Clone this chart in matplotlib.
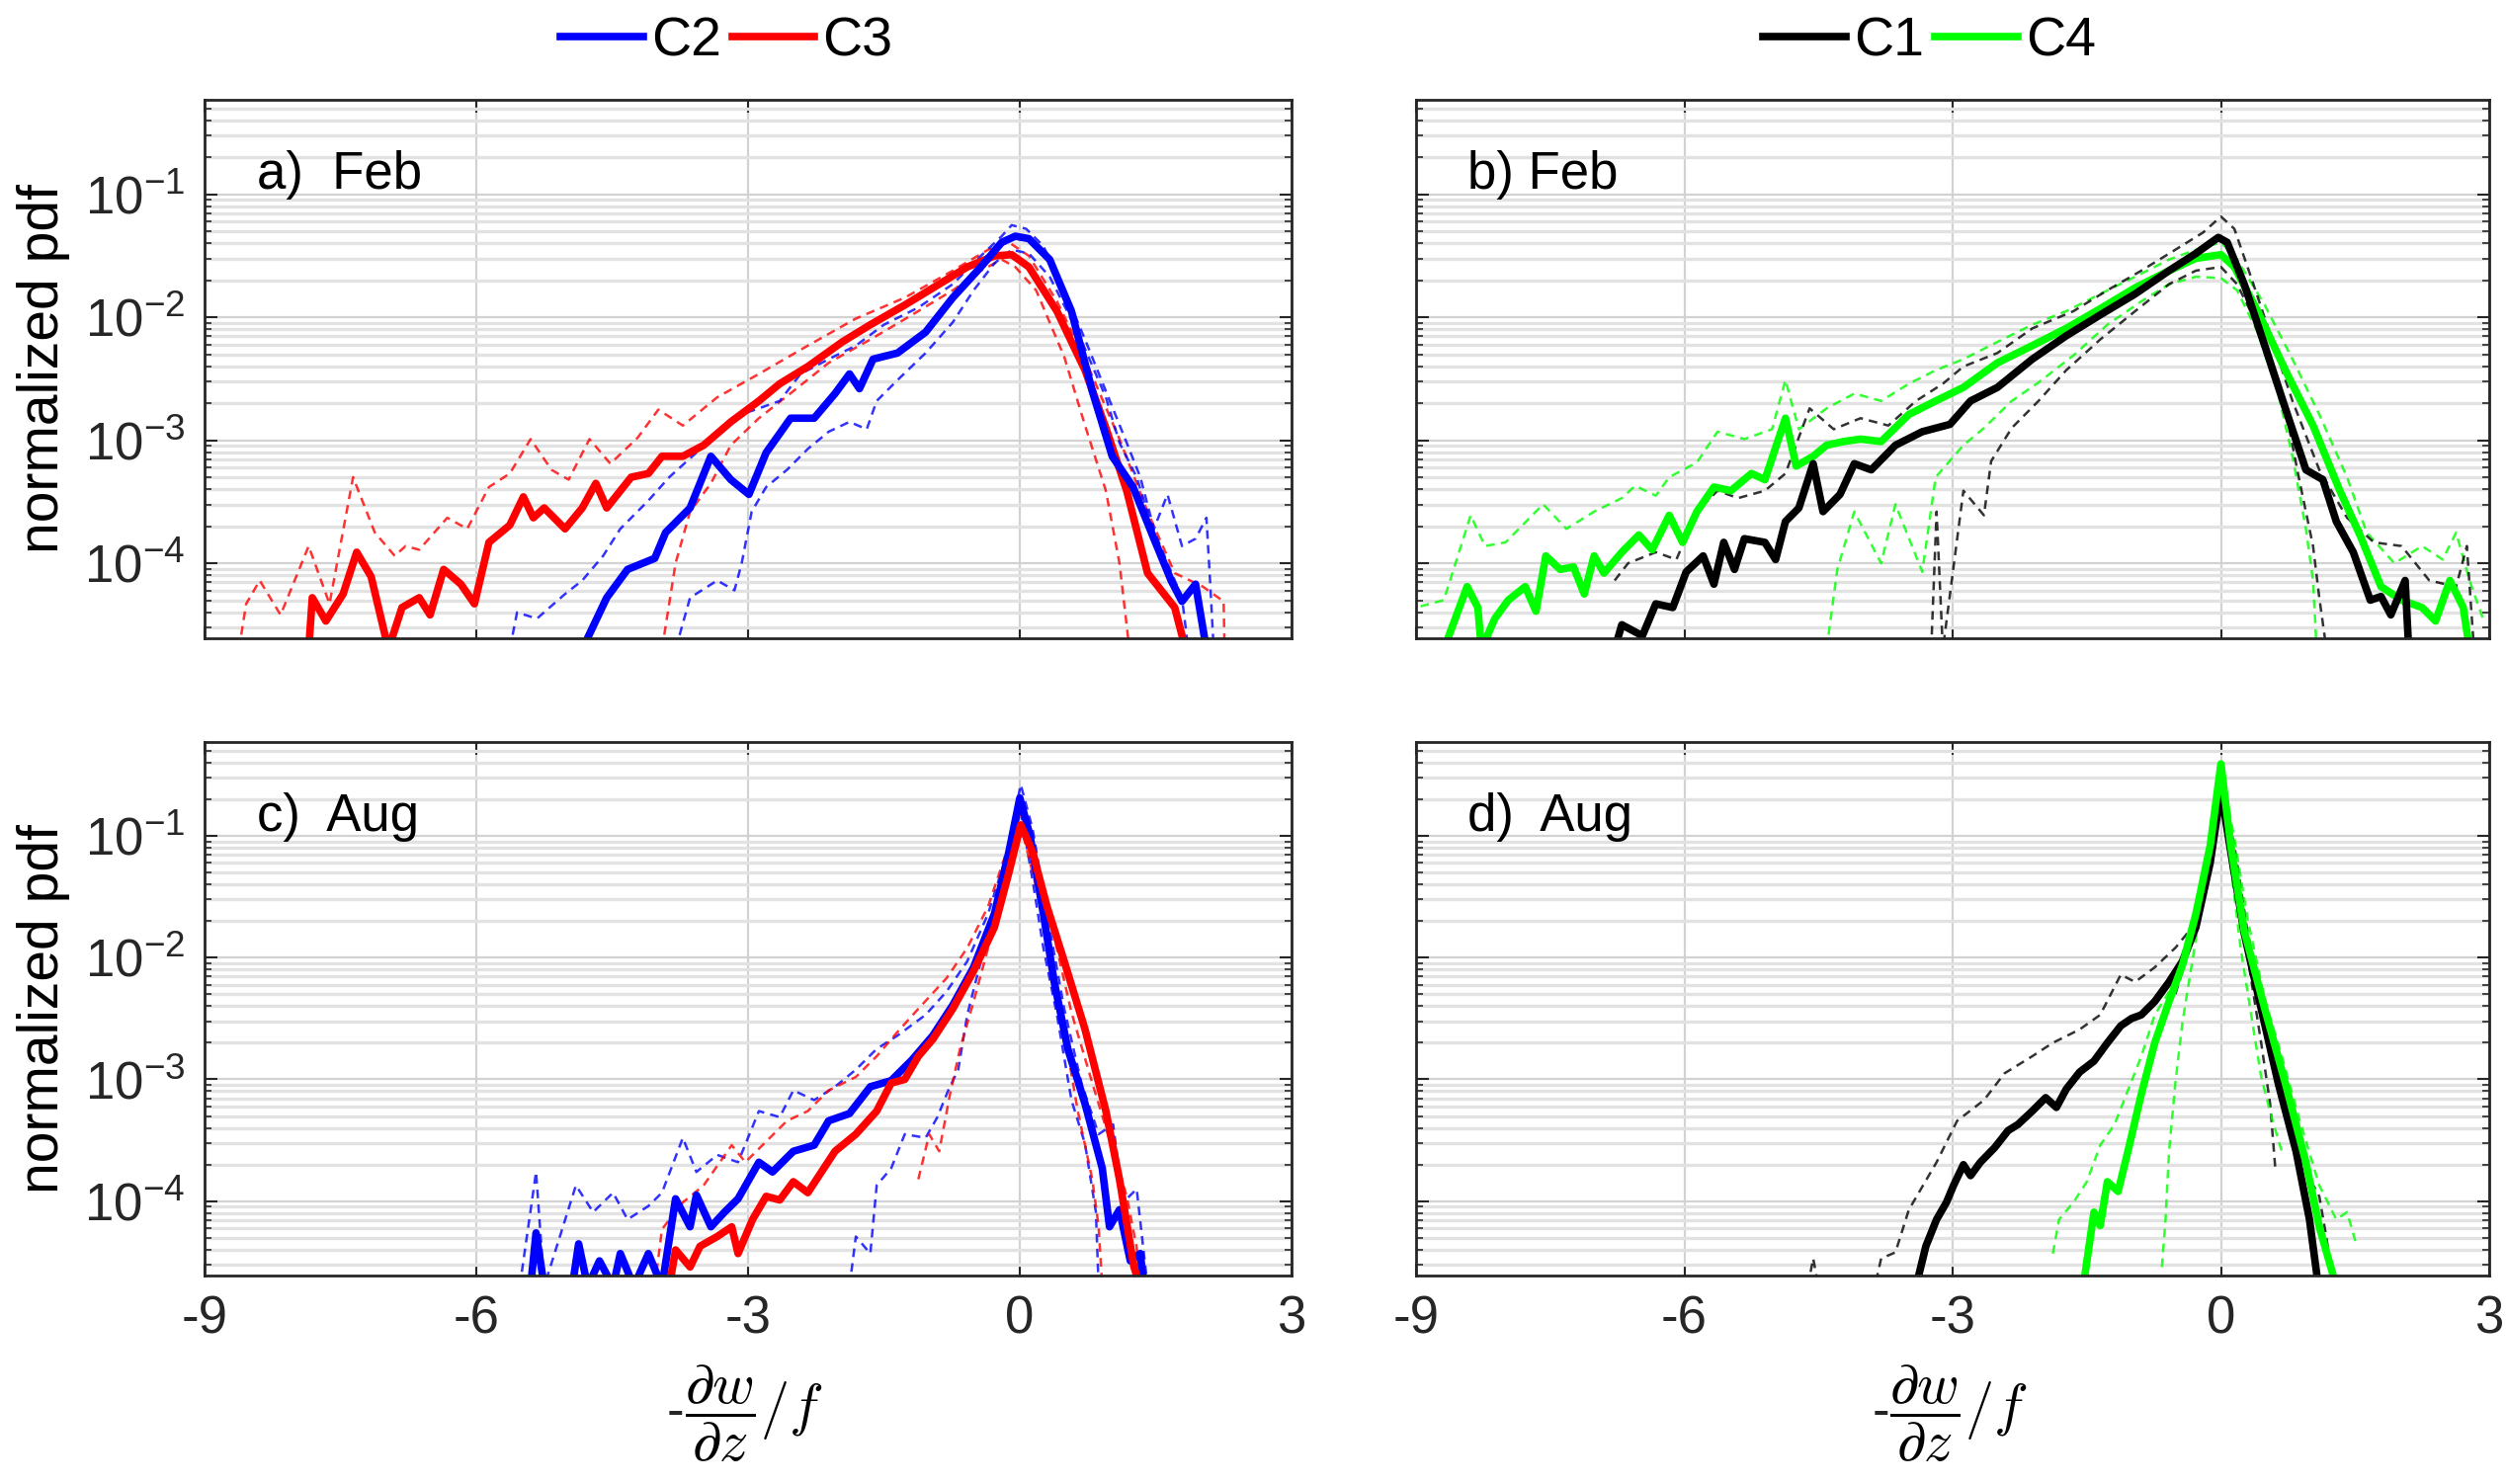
import numpy as np
import matplotlib
matplotlib.use("Agg")
import matplotlib.pyplot as plt
from matplotlib.lines import Line2D
from matplotlib.ticker import LogLocator, NullFormatter, FixedLocator

plt.rcParams['font.family'] = ['Liberation Sans', 'DejaVu Sans']
plt.rcParams['mathtext.fontset'] = 'cm'
plt.rcParams['axes.unicode_minus'] = False

# curves as (x, log10 pdf) pairs
# ---- a) Feb : C2 (blue), C3 (red)
A_C2 = [(-4.83, -4.7), (-4.56, -4.28), (-4.33, -4.05), (-4.03, -3.96), (-3.91, -3.75),
        (-3.64, -3.55), (-3.41, -3.13), (-3.19, -3.32), (-2.99, -3.44), (-2.80, -3.10),
        (-2.53, -2.82), (-2.27, -2.82), (-2.04, -2.62), (-1.88, -2.46), (-1.77, -2.58),
        (-1.62, -2.34), (-1.35, -2.29), (-1.04, -2.12), (-0.74, -1.84), (-0.43, -1.59),
        (-0.20, -1.39), (-0.05, -1.34), (0.10, -1.36), (0.33, -1.53), (0.57, -1.95),
        (0.80, -2.60), (1.02, -3.13), (1.25, -3.38), (1.48, -3.80), (1.67, -4.14),
        (1.79, -4.31), (1.94, -4.17), (2.06, -4.7)]
A_C2_HI = [(-5.63, -4.7), (-5.55, -4.40), (-5.33, -4.45), (-5.02, -4.25), (-4.83, -4.14),
           (-4.60, -3.94), (-4.41, -3.72), (-4.10, -3.49), (-3.87, -3.30), (-3.57, -3.10),
           (-3.34, -2.96), (-3.19, -2.82), (-2.88, -2.74), (-2.65, -2.68), (-2.42, -2.46),
           (-2.11, -2.34), (-1.81, -2.23), (-1.50, -2.06), (-1.12, -1.92), (-0.74, -1.73),
           (-0.43, -1.50), (-0.20, -1.34), (-0.09, -1.25), (0.07, -1.28), (0.26, -1.42),
           (0.49, -1.78), (0.72, -2.18), (0.95, -2.60), (1.18, -3.02), (1.33, -3.30),
           (1.48, -3.72), (1.63, -3.44), (1.79, -3.86), (1.94, -3.80), (2.06, -3.63),
           (2.10, -4.14), (2.14, -4.7)]
A_C2_LO = [(-3.80, -4.7), (-3.64, -4.28), (-3.34, -4.14), (-3.15, -4.22), (-3.07, -4.00),
           (-2.96, -3.58), (-2.80, -3.38), (-2.57, -3.24), (-2.34, -3.07), (-2.11, -2.93),
           (-1.88, -2.85), (-1.69, -2.91), (-1.58, -2.68), (-1.35, -2.51), (-1.04, -2.29),
           (-0.74, -2.04), (-0.51, -1.78), (-0.28, -1.56), (-0.09, -1.45), (0.10, -1.48),
           (0.33, -1.67), (0.64, -2.12), (0.95, -2.65), (1.10, -3.02), (1.29, -3.30),
           (1.44, -3.66), (1.63, -4.00), (1.79, -4.28), (1.86, -4.7)]
A_C3 = [(-7.85, -4.7), (-7.81, -4.28), (-7.66, -4.47), (-7.47, -4.25), (-7.32, -3.91),
        (-7.16, -4.11), (-6.97, -4.7), (-6.82, -4.36), (-6.63, -4.28), (-6.51, -4.42),
        (-6.36, -4.05), (-6.17, -4.17), (-6.02, -4.33), (-5.86, -3.83), (-5.63, -3.69),
        (-5.48, -3.46), (-5.37, -3.63), (-5.25, -3.55), (-5.02, -3.72), (-4.83, -3.55),
        (-4.68, -3.35), (-4.56, -3.55), (-4.29, -3.30), (-4.10, -3.27), (-3.95, -3.13),
        (-3.72, -3.13), (-3.49, -3.04), (-3.19, -2.85), (-2.88, -2.68), (-2.65, -2.54),
        (-2.34, -2.40), (-1.96, -2.20), (-1.65, -2.06), (-1.27, -1.90), (-0.89, -1.73),
        (-0.58, -1.59), (-0.28, -1.50), (-0.09, -1.49), (0.10, -1.59), (0.41, -1.95),
        (0.72, -2.43), (0.95, -2.90), (1.18, -3.41), (1.41, -4.08), (1.56, -4.22),
        (1.71, -4.36), (1.83, -4.7)]
A_C3_HI = [(-8.62, -4.7), (-8.54, -4.33), (-8.39, -4.14), (-8.16, -4.42), (-7.85, -3.86),
           (-7.62, -4.33), (-7.36, -3.30), (-7.12, -3.75), (-6.90, -3.94), (-6.78, -3.86),
           (-6.63, -3.89), (-6.32, -3.63), (-6.10, -3.72), (-5.86, -3.38), (-5.63, -3.27),
           (-5.40, -2.99), (-5.17, -3.24), (-4.98, -3.32), (-4.75, -2.99), (-4.52, -3.19),
           (-4.22, -2.98), (-3.99, -2.75), (-3.72, -2.88), (-3.34, -2.65), (-2.88, -2.46),
           (-2.34, -2.23), (-1.81, -2.01), (-1.27, -1.84), (-0.74, -1.62), (-0.35, -1.45),
           (-0.12, -1.39), (0.10, -1.50), (0.41, -1.87), (0.72, -2.34), (1.10, -2.99),
           (1.41, -3.58), (1.71, -4.08), (2.02, -4.19), (2.25, -4.31), (2.26, -4.7)]
A_C3_LO = [(-3.95, -4.7), (-3.80, -4.00), (-3.64, -3.58), (-3.41, -3.35), (-3.19, -3.04),
           (-2.88, -2.82), (-2.50, -2.60), (-2.11, -2.37), (-1.65, -2.18), (-1.19, -1.98),
           (-0.74, -1.78), (-0.43, -1.62), (-0.20, -1.53), (-0.05, -1.59), (0.18, -1.78),
           (0.49, -2.32), (0.72, -2.88), (0.95, -3.41), (1.10, -4.00), (1.21, -4.7)]

# ---- b) Feb : C1 (black), C4 (green)
B_C1 = [(-6.78, -4.7), (-6.70, -4.50), (-6.47, -4.59), (-6.32, -4.33), (-6.13, -4.36),
        (-5.98, -4.07), (-5.79, -3.94), (-5.67, -4.17), (-5.56, -3.83), (-5.44, -4.05),
        (-5.33, -3.80), (-5.10, -3.83), (-4.98, -3.97), (-4.87, -3.66), (-4.72, -3.55),
        (-4.56, -3.19), (-4.45, -3.58), (-4.26, -3.44), (-4.10, -3.19), (-3.91, -3.24),
        (-3.64, -3.04), (-3.34, -2.93), (-3.03, -2.87), (-2.80, -2.68), (-2.50, -2.57),
        (-2.11, -2.34), (-1.73, -2.15), (-1.35, -1.98), (-0.96, -1.81), (-0.58, -1.62),
        (-0.28, -1.48), (-0.03, -1.35), (0.07, -1.39), (0.26, -1.73), (0.49, -2.23),
        (0.72, -2.74), (0.95, -3.24), (1.14, -3.32), (1.29, -3.66), (1.48, -3.91),
        (1.67, -4.30), (1.79, -4.27), (1.90, -4.42), (2.06, -4.14), (2.10, -4.7)]
B_C1_HI = [(-6.78, -4.14), (-6.63, -4.00), (-6.32, -3.91), (-6.09, -3.97), (-5.86, -3.58),
           (-5.63, -3.41), (-5.40, -3.47), (-5.10, -3.41), (-4.87, -3.27), (-4.60, -2.74),
           (-4.33, -2.91), (-4.03, -2.82), (-3.72, -2.88), (-3.41, -2.68), (-3.11, -2.54),
           (-2.88, -2.40), (-2.50, -2.29), (-2.11, -2.09), (-1.65, -1.95), (-1.27, -1.78),
           (-0.89, -1.62), (-0.51, -1.45), (-0.20, -1.31), (0.00, -1.18), (0.15, -1.28),
           (0.34, -1.68), (0.57, -2.18), (0.80, -2.68), (1.10, -3.24), (1.41, -3.63),
           (1.71, -3.83), (2.02, -3.86), (2.33, -4.14), (2.63, -4.19), (2.75, -3.86),
           (2.83, -4.7)]
B_C1_LO = [(-3.24, -4.7), (-3.18, -3.58), (-3.11, -4.7), (-2.88, -3.41), (-2.65, -3.61),
           (-2.57, -3.17), (-2.34, -2.90), (-2.04, -2.68), (-1.73, -2.43), (-1.35, -2.18),
           (-0.96, -1.95), (-0.58, -1.73), (-0.28, -1.62), (0.00, -1.59), (0.18, -1.73),
           (0.49, -2.18), (0.72, -2.74), (0.87, -3.30), (1.03, -3.86), (1.10, -4.28),
           (1.18, -4.7)]
B_C4 = [(-8.69, -4.7), (-8.43, -4.19), (-8.31, -4.36), (-8.27, -4.7), (-8.12, -4.45),
        (-7.97, -4.30), (-7.78, -4.19), (-7.66, -4.39), (-7.55, -3.94), (-7.39, -4.05),
        (-7.24, -4.03), (-7.12, -4.25), (-7.01, -3.94), (-6.90, -4.08), (-6.70, -3.91),
        (-6.51, -3.77), (-6.36, -3.89), (-6.17, -3.61), (-6.02, -3.83), (-5.86, -3.58),
        (-5.67, -3.38), (-5.48, -3.41), (-5.25, -3.27), (-5.10, -3.32), (-4.87, -2.82),
        (-4.75, -3.21), (-4.56, -3.13), (-4.41, -3.04), (-4.22, -3.01), (-4.03, -2.99),
        (-3.80, -3.01), (-3.49, -2.79), (-3.19, -2.68), (-2.88, -2.57), (-2.50, -2.37),
        (-2.11, -2.23), (-1.73, -2.09), (-1.35, -1.93), (-0.96, -1.76), (-0.58, -1.62),
        (-0.28, -1.52), (0.00, -1.49), (0.15, -1.59), (0.41, -1.95), (0.72, -2.43),
        (1.03, -2.88), (1.33, -3.41), (1.56, -3.78), (1.79, -4.19), (2.02, -4.30),
        (2.25, -4.36), (2.40, -4.47), (2.56, -4.14), (2.71, -4.36), (2.78, -4.7)]
B_C4_HI = [(-8.95, -4.35), (-8.69, -4.30), (-8.39, -3.61), (-8.23, -3.86), (-8.00, -3.83),
           (-7.58, -3.52), (-7.32, -3.72), (-7.01, -3.58), (-6.70, -3.47), (-6.55, -3.37),
           (-6.32, -3.45), (-6.17, -3.30), (-5.86, -3.18), (-5.63, -2.93), (-5.33, -2.99),
           (-5.02, -2.91), (-4.87, -2.51), (-4.72, -2.91), (-4.41, -2.74), (-4.10, -2.62),
           (-3.80, -2.68), (-3.49, -2.54), (-3.19, -2.43), (-2.88, -2.34), (-2.50, -2.20),
           (-2.11, -2.06), (-1.73, -1.95), (-1.35, -1.81), (-0.96, -1.67), (-0.58, -1.53),
           (-0.28, -1.45), (0.00, -1.39), (0.18, -1.53), (0.49, -1.90), (0.80, -2.34),
           (1.10, -2.79), (1.41, -3.30), (1.63, -3.75), (1.94, -4.00), (2.25, -3.86),
           (2.48, -3.97), (2.63, -3.75), (2.78, -4.14), (2.93, -4.45)]
B_C4_LO = [(-4.41, -4.7), (-4.29, -4.05), (-4.10, -3.58), (-3.80, -4.00), (-3.64, -3.52),
           (-3.34, -4.07), (-3.19, -3.30), (-2.88, -3.04), (-2.65, -2.90), (-2.34, -2.68),
           (-2.04, -2.53), (-1.65, -2.31), (-1.27, -2.06), (-0.89, -1.87), (-0.58, -1.73),
           (-0.28, -1.67), (0.00, -1.68), (0.18, -1.78), (0.41, -2.12), (0.64, -2.62),
           (0.80, -3.13), (0.95, -3.72), (1.03, -4.14), (1.07, -4.7)]

# ---- c) Aug : C2 (blue), C3 (red)
C_C2 = [(-5.40, -4.7), (-5.34, -4.26), (-5.25, -4.7), (-4.94, -4.7), (-4.87, -4.35),
        (-4.77, -4.7), (-4.64, -4.49), (-4.49, -4.7), (-4.41, -4.43), (-4.26, -4.7),
        (-4.10, -4.43), (-3.95, -4.7), (-3.80, -3.98), (-3.64, -4.21), (-3.57, -3.95),
        (-3.41, -4.21), (-3.26, -4.09), (-3.11, -3.98), (-2.88, -3.68), (-2.73, -3.76),
        (-2.50, -3.59), (-2.27, -3.54), (-2.11, -3.34), (-1.88, -3.28), (-1.65, -3.06),
        (-1.42, -3.01), (-1.19, -2.84), (-0.96, -2.64), (-0.74, -2.39), (-0.51, -2.08),
        (-0.28, -1.64), (-0.12, -1.13), (0.00, -0.69), (0.11, -0.99), (0.26, -1.64),
        (0.38, -2.20), (0.53, -2.75), (0.72, -3.20), (0.91, -3.73), (0.99, -4.21),
        (1.10, -4.07), (1.22, -4.49), (1.33, -4.43), (1.37, -4.7)]
C_C2_HI = [(-5.52, -4.7), (-5.34, -3.76), (-5.25, -4.7), (-4.90, -3.87), (-4.71, -4.09),
           (-4.49, -3.93), (-4.33, -4.15), (-4.10, -4.04), (-3.95, -3.93), (-3.72, -3.48),
           (-3.57, -3.76), (-3.34, -3.62), (-3.11, -3.68), (-2.88, -3.26), (-2.65, -3.31),
           (-2.50, -3.09), (-2.27, -3.17), (-2.04, -3.06), (-1.81, -2.92), (-1.58, -2.75),
           (-1.35, -2.64), (-1.04, -2.47), (-0.81, -2.28), (-0.58, -2.03), (-0.35, -1.64),
           (-0.16, -1.19), (0.01, -0.58), (0.14, -0.94), (0.30, -1.64), (0.49, -2.42),
           (0.68, -3.03), (0.87, -3.45), (1.03, -3.37), (1.14, -4.01), (1.29, -3.90),
           (1.41, -4.7)]
C_C2_LO = [(-1.88, -4.7), (-1.81, -4.29), (-1.65, -4.43), (-1.58, -3.87), (-1.42, -3.73),
           (-1.27, -3.45), (-1.04, -3.48), (-0.91, -3.31), (-0.79, -3.09), (-0.68, -2.92),
           (-0.58, -2.47), (-0.43, -2.03), (-0.24, -1.53), (-0.09, -1.05), (0.01, -0.80),
           (0.14, -1.36), (0.26, -1.92), (0.41, -2.47), (0.57, -3.17), (0.72, -3.53),
           (0.84, -4.09), (0.87, -4.7)]
C_C3 = [(-3.87, -4.7), (-3.80, -4.40), (-3.64, -4.54), (-3.53, -4.37), (-3.34, -4.29),
        (-3.18, -4.21), (-3.11, -4.43), (-2.95, -4.15), (-2.80, -3.96), (-2.65, -3.99),
        (-2.50, -3.84), (-2.34, -3.93), (-2.19, -3.76), (-2.04, -3.59), (-1.81, -3.45),
        (-1.58, -3.26), (-1.42, -3.03), (-1.27, -3.00), (-1.12, -2.81), (-0.96, -2.67),
        (-0.74, -2.42), (-0.51, -2.11), (-0.28, -1.75), (-0.12, -1.30), (0.01, -0.91),
        (0.14, -1.13), (0.30, -1.58), (0.49, -2.03), (0.72, -2.59), (0.95, -3.26),
        (1.10, -3.82), (1.26, -4.54), (1.33, -4.7)]
C_C3_HI = [(-4.03, -4.7), (-3.95, -4.23), (-3.72, -4.01), (-3.49, -3.87), (-3.18, -3.54),
           (-3.03, -3.68), (-2.80, -3.51), (-2.57, -3.34), (-2.34, -3.26), (-2.11, -3.09),
           (-1.81, -2.98), (-1.58, -2.81), (-1.35, -2.61), (-1.12, -2.42), (-0.81, -2.17),
           (-0.58, -1.92), (-0.35, -1.58), (-0.16, -1.16), (0.01, -0.80), (0.18, -1.16),
           (0.38, -1.83), (0.57, -2.45), (0.80, -3.03), (1.03, -3.59), (1.18, -3.96),
           (1.29, -4.38), (1.33, -4.7)]
C_C3_LO = [(-1.12, -3.82), (-1.00, -3.45), (-0.89, -3.59), (-0.77, -3.12), (-0.66, -2.75),
           (-0.51, -2.36), (-0.35, -1.92), (-0.20, -1.47), (-0.05, -1.08), (0.03, -0.97),
           (0.18, -1.42), (0.34, -1.97), (0.49, -2.61), (0.64, -3.26), (0.80, -3.82),
           (0.87, -4.21), (0.91, -4.7)]

# ---- d) Aug : C1 (black), C4 (green)
D_C1 = [(-3.41, -4.7), (-3.30, -4.37), (-3.18, -4.15), (-3.07, -4.01), (-2.99, -3.87),
        (-2.88, -3.70), (-2.80, -3.79), (-2.69, -3.68), (-2.53, -3.56), (-2.38, -3.42),
        (-2.27, -3.37), (-2.11, -3.26), (-1.96, -3.15), (-1.84, -3.23), (-1.73, -3.08),
        (-1.58, -2.94), (-1.42, -2.85), (-1.27, -2.70), (-1.12, -2.56), (-1.00, -2.50),
        (-0.89, -2.47), (-0.74, -2.36), (-0.58, -2.20), (-0.43, -2.03), (-0.28, -1.75),
        (-0.12, -1.22), (0.00, -0.63), (0.11, -1.13), (0.26, -1.80), (0.45, -2.42),
        (0.64, -3.03), (0.84, -3.59), (0.99, -4.15), (1.09, -4.7)]
D_C1_HI = [(-4.62, -4.7), (-4.56, -4.47), (-4.50, -4.7), (-3.87, -4.7), (-3.80, -4.47),
           (-3.64, -4.42), (-3.49, -4.07), (-3.18, -3.68), (-2.95, -3.34), (-2.65, -3.17),
           (-2.42, -2.95), (-2.11, -2.81), (-1.88, -2.70), (-1.58, -2.59), (-1.35, -2.47),
           (-1.12, -2.14), (-0.96, -2.20), (-0.74, -2.08), (-0.51, -1.92), (-0.32, -1.75),
           (-0.16, -1.36), (0.00, -0.61), (0.15, -1.08), (0.30, -1.80), (0.49, -2.45),
           (0.64, -2.95), (0.80, -3.37), (0.95, -3.76), (1.10, -3.96), (1.18, -4.30),
           (1.26, -4.7)]
D_C1_LO = [(-0.51, -2.30), (-0.30, -1.80), (-0.15, -1.30), (0.00, -0.70), (0.15, -1.30),
           (0.30, -2.00), (0.45, -2.70), (0.55, -3.20), (0.61, -3.75)]
D_C4 = [(-1.54, -4.7), (-1.42, -4.09), (-1.35, -4.20), (-1.27, -3.84), (-1.15, -3.92),
        (-1.04, -3.59), (-0.89, -3.12), (-0.74, -2.70), (-0.58, -2.36), (-0.43, -2.06),
        (-0.28, -1.64), (-0.12, -1.08), (0.00, -0.41), (0.11, -1.08), (0.26, -1.78),
        (0.49, -2.42), (0.72, -3.03), (0.95, -3.68), (1.10, -4.21), (1.29, -4.7)]
D_C4_HI = [(-1.88, -4.43), (-1.81, -4.15), (-1.65, -4.01), (-1.50, -3.84), (-1.35, -3.54),
           (-1.19, -3.37), (-1.04, -3.09), (-0.89, -2.81), (-0.74, -2.47), (-0.58, -2.28),
           (-0.43, -1.97), (-0.28, -1.58), (-0.12, -1.02), (0.00, -0.44), (0.15, -1.02),
           (0.30, -1.69), (0.49, -2.34), (0.68, -2.81), (0.87, -3.31), (1.10, -3.87),
           (1.29, -4.15), (1.41, -4.09), (1.52, -4.37)]
D_C4_LO = [(-0.66, -4.54), (-0.62, -4.15), (-0.58, -3.59), (-0.51, -3.03), (-0.43, -2.53),
           (-0.32, -2.03), (-0.20, -1.47), (-0.08, -0.97), (0.00, -0.66), (0.11, -1.25),
           (0.22, -1.92), (0.34, -2.48), (0.45, -2.98), (0.57, -3.32), (0.68, -3.59)]

BLUE, RED, BLACK, GREEN = '#0000ff', '#ff0000', '#000000', '#00ff00'

PANELS = [
    ("a)  Feb", [(A_C3, A_C3_HI, A_C3_LO, RED), (A_C2, A_C2_HI, A_C2_LO, BLUE)]),
    ("b) Feb", [(B_C4, B_C4_HI, B_C4_LO, GREEN), (B_C1, B_C1_HI, B_C1_LO, BLACK)]),
    ("c)  Aug", [(C_C2, C_C2_HI, C_C2_LO, BLUE), (C_C3, C_C3_HI, C_C3_LO, RED)]),
    ("d)  Aug", [(D_C1, D_C1_HI, D_C1_LO, BLACK), (D_C4, D_C4_HI, D_C4_LO, GREEN)]),
]

XTICKS = [-9, -6, -3, 0, 3]
YLIM = (10 ** -4.61, 10 ** -0.23)
FS = 38

AX_POS = [
    [0.0816, 0.5699, 0.4338, 0.3629],
    [0.5651, 0.5699, 0.4282, 0.3629],
    [0.0816, 0.1405, 0.4338, 0.3595],
    [0.5651, 0.1405, 0.4282, 0.3595],
]


def xy(pts):
    arr = np.array(pts)
    return arr[:, 0], 10 ** arr[:, 1]


fig = plt.figure(figsize=(25.36, 15.02), dpi=100)

for i, (label, groups) in enumerate(PANELS):
    ax = fig.add_axes(AX_POS[i])
    ax.set_yscale('log')
    ax.set_xlim(-9, 3)
    ax.set_ylim(*YLIM)

    # grid like matlab: x major, y major + minor
    ax.xaxis.set_major_locator(FixedLocator(XTICKS))
    ax.yaxis.set_major_locator(LogLocator(base=10, numticks=10))
    ax.yaxis.set_minor_locator(LogLocator(base=10, subs=np.arange(2, 10), numticks=20))
    ax.yaxis.set_minor_formatter(NullFormatter())
    ax.grid(True, which='major', axis='both', color='#d2d2d2', lw=1.6)
    ax.grid(True, which='minor', axis='y', color='#e2e2e2', lw=2.4)
    ax.set_axisbelow(True)

    for mean, hi, lo, color in groups:
        for env in (hi, lo):
            x, y = xy(env)
            ax.plot(x, y, color=color, lw=1.8, dashes=(3.5, 2.5), alpha=0.8)
    for mean, hi, lo, color in groups:
        x, y = xy(mean)
        ax.plot(x, y, color=color, lw=5.5, solid_joinstyle='round')

    ax.tick_params(which='both', direction='in', top=True, right=True,
                   labelsize=FS, colors='#262626', pad=14)
    ax.tick_params(which='major', length=9, width=1.5)
    ax.tick_params(which='minor', length=5, width=1.2)
    for sp in ax.spines.values():
        sp.set_color('#262626')
        sp.set_linewidth(2)

    if i < 2:
        ax.set_xticklabels([])
    else:
        ax.set_xticklabels([str(t) for t in XTICKS])
        ax.set_xlabel(r'$\dfrac{\partial w}{\partial z}/f$', fontsize=42)
        ax.xaxis.set_label_coords(0.505, -0.165)
        ax.text(0.441, -0.258, '-', transform=ax.transAxes, fontsize=FS,
                ha='right', va='center', color='#262626')
    if i % 2 == 1:
        ax.set_yticklabels([])
    else:
        ax.set_ylabel('normalized pdf', fontsize=41, labelpad=10)

    ax.text(0.048, 0.86, label, transform=ax.transAxes, fontsize=FS,
            ha='left', va='center')

leg_font = {'family': ['Liberation Sans Narrow', 'Liberation Sans'], 'size': 40}
h1 = [Line2D([], [], color=BLUE, lw=5.5, label='C2'),
      Line2D([], [], color=RED, lw=5.5, label='C3')]
h2 = [Line2D([], [], color=BLACK, lw=5.5, label='C1'),
      Line2D([], [], color=GREEN, lw=5.5, label='C4')]
for handles, cx in ((h1, 0.29), (h2, 0.77)):
    fig.legend(handles=handles, loc='center', bbox_to_anchor=(cx, 0.972), ncol=2,
               frameon=False, prop=leg_font, handlelength=1.5, handletextpad=0.15,
               columnspacing=0.2, borderpad=0)

fig.savefig('out.png', dpi=100)
